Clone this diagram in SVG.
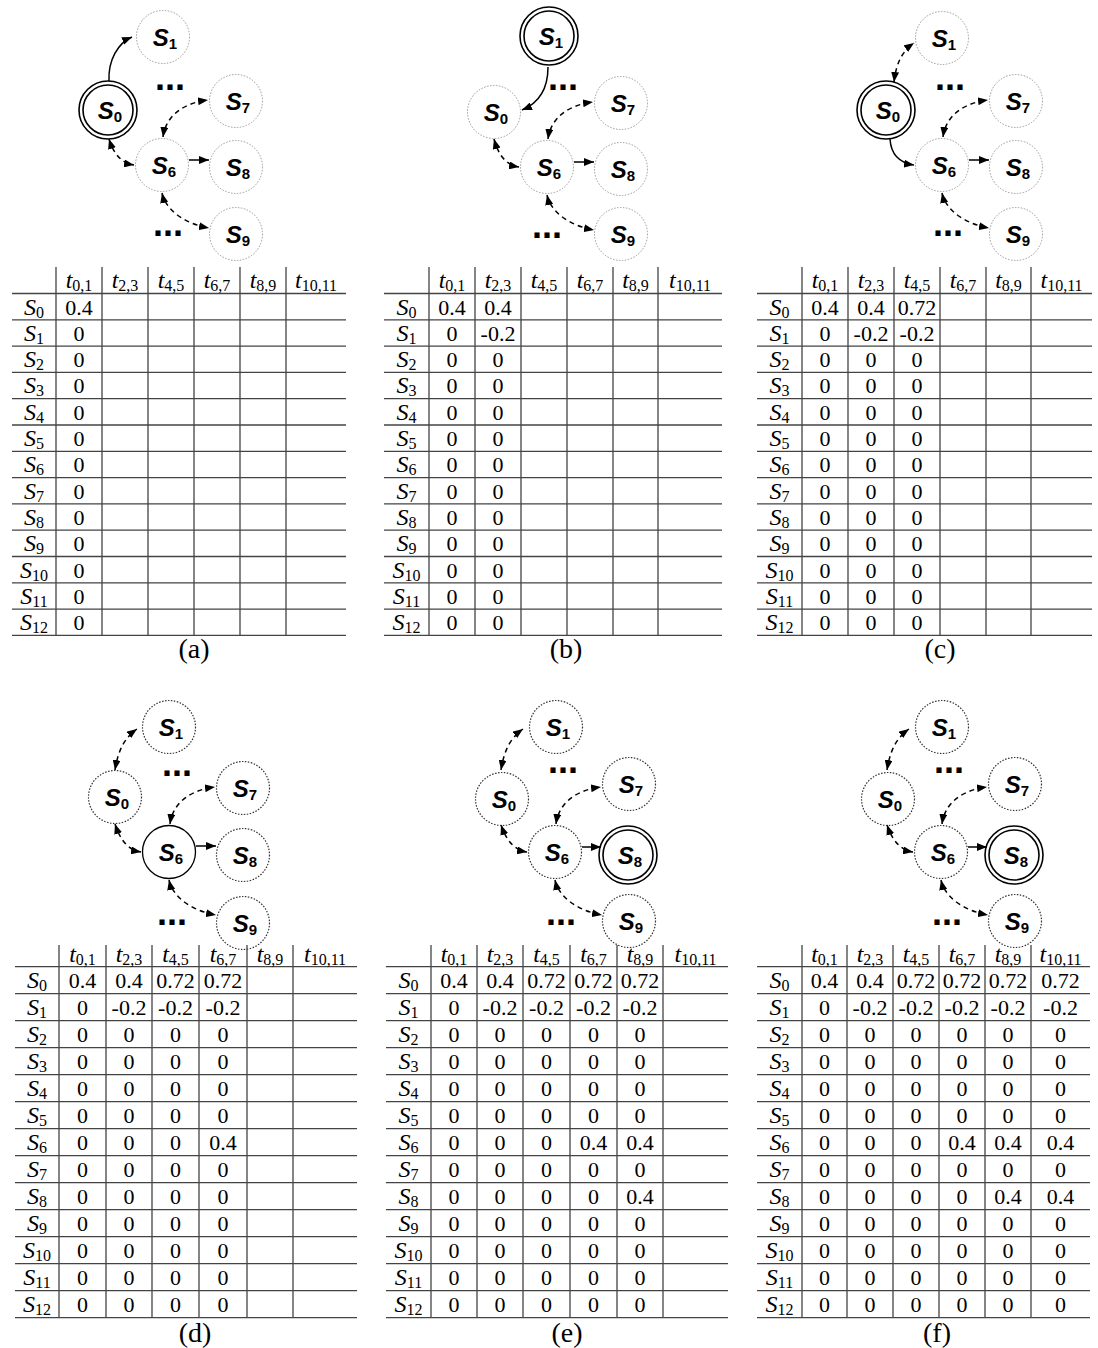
<svg xmlns="http://www.w3.org/2000/svg" width="1098" height="1348" viewBox="0 0 1098 1348">
<style>
.nd circle{fill:none;stroke:#999;stroke-width:1;stroke-dasharray:1.5 1.5}
.nk circle{fill:none;stroke:#333;stroke-width:1.2;stroke-dasharray:1.5 1.5}
.db circle{fill:none;stroke:#000;stroke-width:1.6}
.sg circle{fill:none;stroke:#000;stroke-width:1.3}
.node text{font-family:"Liberation Sans",Arial,sans-serif;font-weight:bold;font-style:italic;font-size:24px;text-anchor:middle;fill:#000}
.ns{font-size:15px;font-style:normal}
.dots{font-family:"Liberation Sans",Arial,sans-serif;font-weight:bold;font-size:36px;text-anchor:middle}
.sl{fill:none;stroke:#000;stroke-width:1.5}
.ds{fill:none;stroke:#000;stroke-width:1.5;stroke-dasharray:5 4}
.gl path{fill:none;stroke:#444;stroke-width:1.3}
.hd,.rl{font-family:"Liberation Serif","Times New Roman",serif;font-style:italic;font-size:24px;text-anchor:middle}
.sb{font-style:normal;font-size:16px}
.v{font-family:"Liberation Serif","Times New Roman",serif;font-size:22px;text-anchor:middle}
.cap{font-family:"Liberation Serif","Times New Roman",serif;font-size:28px;text-anchor:middle}
</style>
<defs>
<marker id="ah" viewBox="0 0 10 8" refX="10" refY="4" markerWidth="10" markerHeight="8" markerUnits="userSpaceOnUse" orient="auto-start-reverse"><path d="M0,0 L10,4 L0,8 z" fill="#000"/></marker>
</defs>
<rect width="1098" height="1348" fill="#fff"/>

<!-- ===== Graph (a) ===== -->
<g id="graph-a" transform="translate(162,165)">
<g id="a-edges">
<path class="sl" d="M-53,-84 C-54,-105 -44,-122 -30,-128" marker-end="url(#ah)"/>
<path class="ds" d="M-53,-26 C-48,-10 -40,-2 -28,0" marker-start="url(#ah)" marker-end="url(#ah)"/>
<path class="ds" d="M1,-28 C4,-50 22,-62 46,-65" marker-start="url(#ah)" marker-end="url(#ah)"/>
<path class="sl" d="M27,-5 L47,-5" marker-end="url(#ah)"/>
<path class="ds" d="M0,28 C4,46 24,59 47,63" marker-start="url(#ah)" marker-end="url(#ah)"/>
</g>
<g id="a-S0" class="node db" transform="translate(-54,-55)"><circle r="29"/><circle r="25"/><text x="2" y="9">S<tspan class="ns" dy="3">0</tspan></text></g>
<g id="a-S1" class="node nd" transform="translate(1,-128)"><circle r="26.5"/><text x="2" y="9">S<tspan class="ns" dy="3">1</tspan></text></g>
<g id="a-S6" class="node nd"><circle r="26.5"/><text x="2" y="9">S<tspan class="ns" dy="3">6</tspan></text></g>
<g id="a-S7" class="node nd" transform="translate(74,-64)"><circle r="26.5"/><text x="2" y="9">S<tspan class="ns" dy="3">7</tspan></text></g>
<g id="a-S8" class="node nd" transform="translate(74,2)"><circle r="26.5"/><text x="2" y="9">S<tspan class="ns" dy="3">8</tspan></text></g>
<g id="a-S9" class="node nd" transform="translate(74,69)"><circle r="26.5"/><text x="2" y="9">S<tspan class="ns" dy="3">9</tspan></text></g>
<text class="dots" x="8" y="-75">...</text>
<text class="dots" x="6" y="71">...</text>
</g>

<!-- ===== Graph (b) ===== -->
<g id="graph-b" transform="translate(547,167)">
<g id="b-edges">
<path class="sl" d="M1,-100 C1,-78 -8,-64 -25,-57" marker-end="url(#ah)"/>
<path class="ds" d="M-53,-28 C-48,-10 -40,-2 -28,0" marker-start="url(#ah)" marker-end="url(#ah)"/>
<path class="ds" d="M1,-28 C4,-50 22,-62 46,-65" marker-start="url(#ah)" marker-end="url(#ah)"/>
<path class="sl" d="M27,-5 L47,-5" marker-end="url(#ah)"/>
<path class="ds" d="M0,28 C4,46 24,59 47,63" marker-start="url(#ah)" marker-end="url(#ah)"/>
</g>
<g id="b-S0" class="node nd" transform="translate(-53,-55)"><circle r="26.5"/><text x="2" y="9">S<tspan class="ns" dy="3">0</tspan></text></g>
<g id="b-S1" class="node db" transform="translate(2,-131)"><circle r="29"/><circle r="25"/><text x="2" y="9">S<tspan class="ns" dy="3">1</tspan></text></g>
<g id="b-S6" class="node nd"><circle r="26.5"/><text x="2" y="9">S<tspan class="ns" dy="3">6</tspan></text></g>
<g id="b-S7" class="node nd" transform="translate(74,-64)"><circle r="26.5"/><text x="2" y="9">S<tspan class="ns" dy="3">7</tspan></text></g>
<g id="b-S8" class="node nd" transform="translate(74,2)"><circle r="26.5"/><text x="2" y="9">S<tspan class="ns" dy="3">8</tspan></text></g>
<g id="b-S9" class="node nd" transform="translate(74,67)"><circle r="26.5"/><text x="2" y="9">S<tspan class="ns" dy="3">9</tspan></text></g>
<text class="dots" x="16" y="-77">...</text>
<text class="dots" x="0" y="71">...</text>
</g>

<!-- ===== Graph (c) ===== -->
<g id="graph-c" transform="translate(942,165)">
<g id="c-edges">
<path class="ds" d="M-48,-83 C-46,-100 -41,-113 -28,-122" marker-start="url(#ah)" marker-end="url(#ah)"/>
<path class="sl" d="M-52,-26 C-51,-10 -42,-2 -28,0" marker-end="url(#ah)"/>
<path class="ds" d="M1,-28 C4,-50 22,-62 46,-65" marker-start="url(#ah)" marker-end="url(#ah)"/>
<path class="sl" d="M27,-5 L47,-5" marker-end="url(#ah)"/>
<path class="ds" d="M0,28 C4,46 24,59 47,63" marker-start="url(#ah)" marker-end="url(#ah)"/>
</g>
<g id="c-S0" class="node db" transform="translate(-56,-55)"><circle r="29"/><circle r="25"/><text x="2" y="9">S<tspan class="ns" dy="3">0</tspan></text></g>
<g id="c-S1" class="node nd" transform="translate(0,-127)"><circle r="26.5"/><text x="2" y="9">S<tspan class="ns" dy="3">1</tspan></text></g>
<g id="c-S6" class="node nd"><circle r="26.5"/><text x="2" y="9">S<tspan class="ns" dy="3">6</tspan></text></g>
<g id="c-S7" class="node nd" transform="translate(74,-64)"><circle r="26.5"/><text x="2" y="9">S<tspan class="ns" dy="3">7</tspan></text></g>
<g id="c-S8" class="node nd" transform="translate(74,2)"><circle r="26.5"/><text x="2" y="9">S<tspan class="ns" dy="3">8</tspan></text></g>
<g id="c-S9" class="node nd" transform="translate(74,69)"><circle r="26.5"/><text x="2" y="9">S<tspan class="ns" dy="3">9</tspan></text></g>
<text class="dots" x="8" y="-75">...</text>
<text class="dots" x="6" y="71">...</text>
</g>

<!-- ===== Graph (d) ===== -->
<g id="graph-d" transform="translate(169,852)">
<g id="d-edges">
<path class="ds" d="M-54,-82 C-51,-100 -46,-113 -32,-123" marker-start="url(#ah)" marker-end="url(#ah)"/>
<path class="ds" d="M-54,-28 C-48,-10 -40,-2 -28,0" marker-start="url(#ah)" marker-end="url(#ah)"/>
<path class="ds" d="M1,-28 C4,-50 22,-62 46,-65" marker-start="url(#ah)" marker-end="url(#ah)"/>
<path class="sl" d="M27,-6 L47,-6" marker-end="url(#ah)"/>
<path class="ds" d="M0,28 C4,46 24,59 47,63" marker-start="url(#ah)" marker-end="url(#ah)"/>
</g>
<g id="d-S0" class="node nk" transform="translate(-54,-55)"><circle r="26.5"/><text x="2" y="9">S<tspan class="ns" dy="3">0</tspan></text></g>
<g id="d-S1" class="node nk" transform="translate(0,-125)"><circle r="26.5"/><text x="2" y="9">S<tspan class="ns" dy="3">1</tspan></text></g>
<g id="d-S6" class="node sg"><circle r="26.5"/><text x="2" y="9">S<tspan class="ns" dy="3">6</tspan></text></g>
<g id="d-S7" class="node nk" transform="translate(74,-64)"><circle r="26.5"/><text x="2" y="9">S<tspan class="ns" dy="3">7</tspan></text></g>
<g id="d-S8" class="node nk" transform="translate(74,3)"><circle r="26.5"/><text x="2" y="9">S<tspan class="ns" dy="3">8</tspan></text></g>
<g id="d-S9" class="node nk" transform="translate(74,71)"><circle r="26.5"/><text x="2" y="9">S<tspan class="ns" dy="3">9</tspan></text></g>
<text class="dots" x="8" y="-76">...</text>
<text class="dots" x="3" y="73">...</text>
</g>

<!-- ===== Graph (e) ===== -->
<g id="graph-e" transform="translate(555,852)">
<g id="e-edges">
<path class="ds" d="M-54,-82 C-51,-100 -46,-113 -32,-123" marker-start="url(#ah)" marker-end="url(#ah)"/>
<path class="ds" d="M-54,-27 C-48,-10 -40,-2 -28,0" marker-start="url(#ah)" marker-end="url(#ah)"/>
<path class="ds" d="M1,-28 C4,-50 22,-62 46,-65" marker-start="url(#ah)" marker-end="url(#ah)"/>
<path class="sl" d="M27,-5 L46,-5" marker-end="url(#ah)"/>
<path class="ds" d="M0,28 C4,46 24,59 47,63" marker-start="url(#ah)" marker-end="url(#ah)"/>
</g>
<g id="e-S0" class="node nk" transform="translate(-53,-53)"><circle r="26.5"/><text x="2" y="9">S<tspan class="ns" dy="3">0</tspan></text></g>
<g id="e-S1" class="node nk" transform="translate(1,-125)"><circle r="26.5"/><text x="2" y="9">S<tspan class="ns" dy="3">1</tspan></text></g>
<g id="e-S6" class="node nk"><circle r="26.5"/><text x="2" y="9">S<tspan class="ns" dy="3">6</tspan></text></g>
<g id="e-S7" class="node nk" transform="translate(74,-68)"><circle r="26.5"/><text x="2" y="9">S<tspan class="ns" dy="3">7</tspan></text></g>
<g id="e-S8" class="node db" transform="translate(73,3)"><circle r="29"/><circle r="25"/><text x="2" y="9">S<tspan class="ns" dy="3">8</tspan></text></g>
<g id="e-S9" class="node nk" transform="translate(74,69)"><circle r="26.5"/><text x="2" y="9">S<tspan class="ns" dy="3">9</tspan></text></g>
<text class="dots" x="8" y="-79">...</text>
<text class="dots" x="6" y="73">...</text>
</g>

<!-- ===== Graph (f) ===== -->
<g id="graph-f" transform="translate(941,852)">
<g id="f-edges">
<path class="ds" d="M-54,-82 C-51,-100 -46,-113 -32,-123" marker-start="url(#ah)" marker-end="url(#ah)"/>
<path class="ds" d="M-54,-27 C-48,-10 -40,-2 -28,0" marker-start="url(#ah)" marker-end="url(#ah)"/>
<path class="ds" d="M1,-28 C4,-50 22,-62 46,-65" marker-start="url(#ah)" marker-end="url(#ah)"/>
<path class="sl" d="M27,-5 L46,-5" marker-end="url(#ah)"/>
<path class="ds" d="M0,28 C4,46 24,59 47,63" marker-start="url(#ah)" marker-end="url(#ah)"/>
</g>
<g id="f-S0" class="node nk" transform="translate(-53,-53)"><circle r="26.5"/><text x="2" y="9">S<tspan class="ns" dy="3">0</tspan></text></g>
<g id="f-S1" class="node nk" transform="translate(1,-125)"><circle r="26.5"/><text x="2" y="9">S<tspan class="ns" dy="3">1</tspan></text></g>
<g id="f-S6" class="node nk"><circle r="26.5"/><text x="2" y="9">S<tspan class="ns" dy="3">6</tspan></text></g>
<g id="f-S7" class="node nk" transform="translate(74,-68)"><circle r="26.5"/><text x="2" y="9">S<tspan class="ns" dy="3">7</tspan></text></g>
<g id="f-S8" class="node db" transform="translate(73,3)"><circle r="29"/><circle r="25"/><text x="2" y="9">S<tspan class="ns" dy="3">8</tspan></text></g>
<g id="f-S9" class="node nk" transform="translate(74,69)"><circle r="26.5"/><text x="2" y="9">S<tspan class="ns" dy="3">9</tspan></text></g>
<text class="dots" x="8" y="-79">...</text>
<text class="dots" x="6" y="73">...</text>
</g>

<!-- ===== Table (a) ===== -->
<g id="table-a" transform="translate(12,293.5)">
<g class="gl">
<path d="M44,-26.5V341.9M90,-26.5V341.9M136,-26.5V341.9M182,-26.5V341.9M228,-26.5V341.9M274,-26.5V341.9"/>
<path d="M0,0H334M0,26.3H334M0,52.6H334M0,78.9H334M0,105.2H334M0,131.5H334M0,157.8H334M0,184.1H334M0,210.4H334M0,236.7H334M0,263H334M0,289.3H334M0,315.6H334M0,341.9H334"/>
</g>
<g class="hd">
<text x="67" y="-6">t<tspan class="sb" dy="3">0,1</tspan></text>
<text x="113" y="-6">t<tspan class="sb" dy="3">2,3</tspan></text>
<text x="159" y="-6">t<tspan class="sb" dy="3">4,5</tspan></text>
<text x="205" y="-6">t<tspan class="sb" dy="3">6,7</tspan></text>
<text x="251" y="-6">t<tspan class="sb" dy="3">8,9</tspan></text>
<text x="304" y="-6">t<tspan class="sb" dy="3">10,11</tspan></text>
</g>
<g class="rl">
<text x="22" y="21">S<tspan class="sb" dy="3">0</tspan></text>
<text x="22" y="47.3">S<tspan class="sb" dy="3">1</tspan></text>
<text x="22" y="73.6">S<tspan class="sb" dy="3">2</tspan></text>
<text x="22" y="99.9">S<tspan class="sb" dy="3">3</tspan></text>
<text x="22" y="126.2">S<tspan class="sb" dy="3">4</tspan></text>
<text x="22" y="152.5">S<tspan class="sb" dy="3">5</tspan></text>
<text x="22" y="178.8">S<tspan class="sb" dy="3">6</tspan></text>
<text x="22" y="205.1">S<tspan class="sb" dy="3">7</tspan></text>
<text x="22" y="231.4">S<tspan class="sb" dy="3">8</tspan></text>
<text x="22" y="257.7">S<tspan class="sb" dy="3">9</tspan></text>
<text x="22" y="284">S<tspan class="sb" dy="3">10</tspan></text>
<text x="22" y="310.3">S<tspan class="sb" dy="3">11</tspan></text>
<text x="22" y="336.6">S<tspan class="sb" dy="3">12</tspan></text>
</g>
<g class="v">
<text x="67" y="21">0.4</text><text x="67" y="47.3">0</text><text x="67" y="73.6">0</text><text x="67" y="99.9">0</text><text x="67" y="126.2">0</text><text x="67" y="152.5">0</text><text x="67" y="178.8">0</text><text x="67" y="205.1">0</text><text x="67" y="231.4">0</text><text x="67" y="257.7">0</text><text x="67" y="284">0</text><text x="67" y="310.3">0</text><text x="67" y="336.6">0</text>
</g>
</g>
<text class="cap" x="194" y="658">(a)</text>

<!-- ===== Table (b) ===== -->
<g id="table-b" transform="translate(384,293.5)">
<g class="gl">
<path d="M45,-26.5V341.9M91,-26.5V341.9M137,-26.5V341.9M183,-26.5V341.9M229,-26.5V341.9M274,-26.5V341.9"/>
<path d="M0,0H338M0,26.3H338M0,52.6H338M0,78.9H338M0,105.2H338M0,131.5H338M0,157.8H338M0,184.1H338M0,210.4H338M0,236.7H338M0,263H338M0,289.3H338M0,315.6H338M0,341.9H338"/>
</g>
<g class="hd">
<text x="68" y="-6">t<tspan class="sb" dy="3">0,1</tspan></text>
<text x="114" y="-6">t<tspan class="sb" dy="3">2,3</tspan></text>
<text x="160" y="-6">t<tspan class="sb" dy="3">4,5</tspan></text>
<text x="206" y="-6">t<tspan class="sb" dy="3">6,7</tspan></text>
<text x="251.5" y="-6">t<tspan class="sb" dy="3">8,9</tspan></text>
<text x="306" y="-6">t<tspan class="sb" dy="3">10,11</tspan></text>
</g>
<g class="rl">
<text x="22.5" y="21">S<tspan class="sb" dy="3">0</tspan></text>
<text x="22.5" y="47.3">S<tspan class="sb" dy="3">1</tspan></text>
<text x="22.5" y="73.6">S<tspan class="sb" dy="3">2</tspan></text>
<text x="22.5" y="99.9">S<tspan class="sb" dy="3">3</tspan></text>
<text x="22.5" y="126.2">S<tspan class="sb" dy="3">4</tspan></text>
<text x="22.5" y="152.5">S<tspan class="sb" dy="3">5</tspan></text>
<text x="22.5" y="178.8">S<tspan class="sb" dy="3">6</tspan></text>
<text x="22.5" y="205.1">S<tspan class="sb" dy="3">7</tspan></text>
<text x="22.5" y="231.4">S<tspan class="sb" dy="3">8</tspan></text>
<text x="22.5" y="257.7">S<tspan class="sb" dy="3">9</tspan></text>
<text x="22.5" y="284">S<tspan class="sb" dy="3">10</tspan></text>
<text x="22.5" y="310.3">S<tspan class="sb" dy="3">11</tspan></text>
<text x="22.5" y="336.6">S<tspan class="sb" dy="3">12</tspan></text>
</g>
<g class="v">
<text x="68" y="21">0.4</text><text x="68" y="47.3">0</text><text x="68" y="73.6">0</text><text x="68" y="99.9">0</text><text x="68" y="126.2">0</text><text x="68" y="152.5">0</text><text x="68" y="178.8">0</text><text x="68" y="205.1">0</text><text x="68" y="231.4">0</text><text x="68" y="257.7">0</text><text x="68" y="284">0</text><text x="68" y="310.3">0</text><text x="68" y="336.6">0</text>
<text x="114" y="21">0.4</text><text x="114" y="47.3">-0.2</text><text x="114" y="73.6">0</text><text x="114" y="99.9">0</text><text x="114" y="126.2">0</text><text x="114" y="152.5">0</text><text x="114" y="178.8">0</text><text x="114" y="205.1">0</text><text x="114" y="231.4">0</text><text x="114" y="257.7">0</text><text x="114" y="284">0</text><text x="114" y="310.3">0</text><text x="114" y="336.6">0</text>
</g>
</g>
<text class="cap" x="566" y="658">(b)</text>

<!-- ===== Table (c) ===== -->
<g id="table-c" transform="translate(757,293.5)">
<g class="gl">
<path d="M45,-26.5V341.9M91,-26.5V341.9M137,-26.5V341.9M183,-26.5V341.9M229,-26.5V341.9M274,-26.5V341.9"/>
<path d="M0,0H335M0,26.3H335M0,52.6H335M0,78.9H335M0,105.2H335M0,131.5H335M0,157.8H335M0,184.1H335M0,210.4H335M0,236.7H335M0,263H335M0,289.3H335M0,315.6H335M0,341.9H335"/>
</g>
<g class="hd">
<text x="68" y="-6">t<tspan class="sb" dy="3">0,1</tspan></text>
<text x="114" y="-6">t<tspan class="sb" dy="3">2,3</tspan></text>
<text x="160" y="-6">t<tspan class="sb" dy="3">4,5</tspan></text>
<text x="206" y="-6">t<tspan class="sb" dy="3">6,7</tspan></text>
<text x="251.5" y="-6">t<tspan class="sb" dy="3">8,9</tspan></text>
<text x="304.5" y="-6">t<tspan class="sb" dy="3">10,11</tspan></text>
</g>
<g class="rl">
<text x="22.5" y="21">S<tspan class="sb" dy="3">0</tspan></text>
<text x="22.5" y="47.3">S<tspan class="sb" dy="3">1</tspan></text>
<text x="22.5" y="73.6">S<tspan class="sb" dy="3">2</tspan></text>
<text x="22.5" y="99.9">S<tspan class="sb" dy="3">3</tspan></text>
<text x="22.5" y="126.2">S<tspan class="sb" dy="3">4</tspan></text>
<text x="22.5" y="152.5">S<tspan class="sb" dy="3">5</tspan></text>
<text x="22.5" y="178.8">S<tspan class="sb" dy="3">6</tspan></text>
<text x="22.5" y="205.1">S<tspan class="sb" dy="3">7</tspan></text>
<text x="22.5" y="231.4">S<tspan class="sb" dy="3">8</tspan></text>
<text x="22.5" y="257.7">S<tspan class="sb" dy="3">9</tspan></text>
<text x="22.5" y="284">S<tspan class="sb" dy="3">10</tspan></text>
<text x="22.5" y="310.3">S<tspan class="sb" dy="3">11</tspan></text>
<text x="22.5" y="336.6">S<tspan class="sb" dy="3">12</tspan></text>
</g>
<g class="v">
<text x="68" y="21">0.4</text><text x="68" y="47.3">0</text><text x="68" y="73.6">0</text><text x="68" y="99.9">0</text><text x="68" y="126.2">0</text><text x="68" y="152.5">0</text><text x="68" y="178.8">0</text><text x="68" y="205.1">0</text><text x="68" y="231.4">0</text><text x="68" y="257.7">0</text><text x="68" y="284">0</text><text x="68" y="310.3">0</text><text x="68" y="336.6">0</text>
<text x="114" y="21">0.4</text><text x="114" y="47.3">-0.2</text><text x="114" y="73.6">0</text><text x="114" y="99.9">0</text><text x="114" y="126.2">0</text><text x="114" y="152.5">0</text><text x="114" y="178.8">0</text><text x="114" y="205.1">0</text><text x="114" y="231.4">0</text><text x="114" y="257.7">0</text><text x="114" y="284">0</text><text x="114" y="310.3">0</text><text x="114" y="336.6">0</text>
<text x="160" y="21">0.72</text><text x="160" y="47.3">-0.2</text><text x="160" y="73.6">0</text><text x="160" y="99.9">0</text><text x="160" y="126.2">0</text><text x="160" y="152.5">0</text><text x="160" y="178.8">0</text><text x="160" y="205.1">0</text><text x="160" y="231.4">0</text><text x="160" y="257.7">0</text><text x="160" y="284">0</text><text x="160" y="310.3">0</text><text x="160" y="336.6">0</text>
</g>
</g>
<text class="cap" x="940" y="658">(c)</text>

<!-- ===== Table (d) ===== -->
<g id="table-d" transform="translate(15,966.7)">
<g class="gl">
<path d="M44,-21.7V351M91,-21.7V351M137,-21.7V351M184,-21.7V351M232,-21.7V351M278,-21.7V351"/>
<path d="M0,0H342M0,27H342M0,54H342M0,81H342M0,108H342M0,135H342M0,162H342M0,189H342M0,216H342M0,243H342M0,270H342M0,297H342M0,324H342M0,351H342"/>
</g>
<g class="hd">
<text x="67.5" y="-5">t<tspan class="sb" dy="3">0,1</tspan></text>
<text x="114" y="-5">t<tspan class="sb" dy="3">2,3</tspan></text>
<text x="160.5" y="-5">t<tspan class="sb" dy="3">4,5</tspan></text>
<text x="208" y="-5">t<tspan class="sb" dy="3">6,7</tspan></text>
<text x="255" y="-5">t<tspan class="sb" dy="3">8,9</tspan></text>
<text x="310" y="-5">t<tspan class="sb" dy="3">10,11</tspan></text>
</g>
<g class="rl">
<text x="22" y="21">S<tspan class="sb" dy="3">0</tspan></text>
<text x="22" y="48">S<tspan class="sb" dy="3">1</tspan></text>
<text x="22" y="75">S<tspan class="sb" dy="3">2</tspan></text>
<text x="22" y="102">S<tspan class="sb" dy="3">3</tspan></text>
<text x="22" y="129">S<tspan class="sb" dy="3">4</tspan></text>
<text x="22" y="156">S<tspan class="sb" dy="3">5</tspan></text>
<text x="22" y="183">S<tspan class="sb" dy="3">6</tspan></text>
<text x="22" y="210">S<tspan class="sb" dy="3">7</tspan></text>
<text x="22" y="237">S<tspan class="sb" dy="3">8</tspan></text>
<text x="22" y="264">S<tspan class="sb" dy="3">9</tspan></text>
<text x="22" y="291">S<tspan class="sb" dy="3">10</tspan></text>
<text x="22" y="318">S<tspan class="sb" dy="3">11</tspan></text>
<text x="22" y="345">S<tspan class="sb" dy="3">12</tspan></text>
</g>
<g class="v">
<text x="67.5" y="21">0.4</text><text x="67.5" y="48">0</text><text x="67.5" y="75">0</text><text x="67.5" y="102">0</text><text x="67.5" y="129">0</text><text x="67.5" y="156">0</text><text x="67.5" y="183">0</text><text x="67.5" y="210">0</text><text x="67.5" y="237">0</text><text x="67.5" y="264">0</text><text x="67.5" y="291">0</text><text x="67.5" y="318">0</text><text x="67.5" y="345">0</text>
<text x="114" y="21">0.4</text><text x="114" y="48">-0.2</text><text x="114" y="75">0</text><text x="114" y="102">0</text><text x="114" y="129">0</text><text x="114" y="156">0</text><text x="114" y="183">0</text><text x="114" y="210">0</text><text x="114" y="237">0</text><text x="114" y="264">0</text><text x="114" y="291">0</text><text x="114" y="318">0</text><text x="114" y="345">0</text>
<text x="160.5" y="21">0.72</text><text x="160.5" y="48">-0.2</text><text x="160.5" y="75">0</text><text x="160.5" y="102">0</text><text x="160.5" y="129">0</text><text x="160.5" y="156">0</text><text x="160.5" y="183">0</text><text x="160.5" y="210">0</text><text x="160.5" y="237">0</text><text x="160.5" y="264">0</text><text x="160.5" y="291">0</text><text x="160.5" y="318">0</text><text x="160.5" y="345">0</text>
<text x="208" y="21">0.72</text><text x="208" y="48">-0.2</text><text x="208" y="75">0</text><text x="208" y="102">0</text><text x="208" y="129">0</text><text x="208" y="156">0</text><text x="208" y="183">0.4</text><text x="208" y="210">0</text><text x="208" y="237">0</text><text x="208" y="264">0</text><text x="208" y="291">0</text><text x="208" y="318">0</text><text x="208" y="345">0</text>
</g>
</g>
<text class="cap" x="195" y="1342">(d)</text>

<!-- ===== Table (e) ===== -->
<g id="table-e" transform="translate(386,966.7)">
<g class="gl">
<path d="M45,-21.7V351M91,-21.7V351M137,-21.7V351M184,-21.7V351M231,-21.7V351M277,-21.7V351"/>
<path d="M0,0H342M0,27H342M0,54H342M0,81H342M0,108H342M0,135H342M0,162H342M0,189H342M0,216H342M0,243H342M0,270H342M0,297H342M0,324H342M0,351H342"/>
</g>
<g class="hd">
<text x="68" y="-5">t<tspan class="sb" dy="3">0,1</tspan></text>
<text x="114" y="-5">t<tspan class="sb" dy="3">2,3</tspan></text>
<text x="160.5" y="-5">t<tspan class="sb" dy="3">4,5</tspan></text>
<text x="207.5" y="-5">t<tspan class="sb" dy="3">6,7</tspan></text>
<text x="254" y="-5">t<tspan class="sb" dy="3">8,9</tspan></text>
<text x="309.5" y="-5">t<tspan class="sb" dy="3">10,11</tspan></text>
</g>
<g class="rl">
<text x="22.5" y="21">S<tspan class="sb" dy="3">0</tspan></text>
<text x="22.5" y="48">S<tspan class="sb" dy="3">1</tspan></text>
<text x="22.5" y="75">S<tspan class="sb" dy="3">2</tspan></text>
<text x="22.5" y="102">S<tspan class="sb" dy="3">3</tspan></text>
<text x="22.5" y="129">S<tspan class="sb" dy="3">4</tspan></text>
<text x="22.5" y="156">S<tspan class="sb" dy="3">5</tspan></text>
<text x="22.5" y="183">S<tspan class="sb" dy="3">6</tspan></text>
<text x="22.5" y="210">S<tspan class="sb" dy="3">7</tspan></text>
<text x="22.5" y="237">S<tspan class="sb" dy="3">8</tspan></text>
<text x="22.5" y="264">S<tspan class="sb" dy="3">9</tspan></text>
<text x="22.5" y="291">S<tspan class="sb" dy="3">10</tspan></text>
<text x="22.5" y="318">S<tspan class="sb" dy="3">11</tspan></text>
<text x="22.5" y="345">S<tspan class="sb" dy="3">12</tspan></text>
</g>
<g class="v">
<text x="68" y="21">0.4</text><text x="68" y="48">0</text><text x="68" y="75">0</text><text x="68" y="102">0</text><text x="68" y="129">0</text><text x="68" y="156">0</text><text x="68" y="183">0</text><text x="68" y="210">0</text><text x="68" y="237">0</text><text x="68" y="264">0</text><text x="68" y="291">0</text><text x="68" y="318">0</text><text x="68" y="345">0</text>
<text x="114" y="21">0.4</text><text x="114" y="48">-0.2</text><text x="114" y="75">0</text><text x="114" y="102">0</text><text x="114" y="129">0</text><text x="114" y="156">0</text><text x="114" y="183">0</text><text x="114" y="210">0</text><text x="114" y="237">0</text><text x="114" y="264">0</text><text x="114" y="291">0</text><text x="114" y="318">0</text><text x="114" y="345">0</text>
<text x="160.5" y="21">0.72</text><text x="160.5" y="48">-0.2</text><text x="160.5" y="75">0</text><text x="160.5" y="102">0</text><text x="160.5" y="129">0</text><text x="160.5" y="156">0</text><text x="160.5" y="183">0</text><text x="160.5" y="210">0</text><text x="160.5" y="237">0</text><text x="160.5" y="264">0</text><text x="160.5" y="291">0</text><text x="160.5" y="318">0</text><text x="160.5" y="345">0</text>
<text x="207.5" y="21">0.72</text><text x="207.5" y="48">-0.2</text><text x="207.5" y="75">0</text><text x="207.5" y="102">0</text><text x="207.5" y="129">0</text><text x="207.5" y="156">0</text><text x="207.5" y="183">0.4</text><text x="207.5" y="210">0</text><text x="207.5" y="237">0</text><text x="207.5" y="264">0</text><text x="207.5" y="291">0</text><text x="207.5" y="318">0</text><text x="207.5" y="345">0</text>
<text x="254" y="21">0.72</text><text x="254" y="48">-0.2</text><text x="254" y="75">0</text><text x="254" y="102">0</text><text x="254" y="129">0</text><text x="254" y="156">0</text><text x="254" y="183">0.4</text><text x="254" y="210">0</text><text x="254" y="237">0.4</text><text x="254" y="264">0</text><text x="254" y="291">0</text><text x="254" y="318">0</text><text x="254" y="345">0</text>
</g>
</g>
<text class="cap" x="567" y="1342">(e)</text>

<!-- ===== Table (f) ===== -->
<g id="table-f" transform="translate(757,966.7)">
<g class="gl">
<path d="M45,-21.7V351M90,-21.7V351M136,-21.7V351M182,-21.7V351M228,-21.7V351M274,-21.7V351"/>
<path d="M0,0H333M0,27H333M0,54H333M0,81H333M0,108H333M0,135H333M0,162H333M0,189H333M0,216H333M0,243H333M0,270H333M0,297H333M0,324H333M0,351H333"/>
</g>
<g class="hd">
<text x="67.5" y="-5">t<tspan class="sb" dy="3">0,1</tspan></text>
<text x="113" y="-5">t<tspan class="sb" dy="3">2,3</tspan></text>
<text x="159" y="-5">t<tspan class="sb" dy="3">4,5</tspan></text>
<text x="205" y="-5">t<tspan class="sb" dy="3">6,7</tspan></text>
<text x="251" y="-5">t<tspan class="sb" dy="3">8,9</tspan></text>
<text x="303.5" y="-5">t<tspan class="sb" dy="3">10,11</tspan></text>
</g>
<g class="rl">
<text x="22.5" y="21">S<tspan class="sb" dy="3">0</tspan></text>
<text x="22.5" y="48">S<tspan class="sb" dy="3">1</tspan></text>
<text x="22.5" y="75">S<tspan class="sb" dy="3">2</tspan></text>
<text x="22.5" y="102">S<tspan class="sb" dy="3">3</tspan></text>
<text x="22.5" y="129">S<tspan class="sb" dy="3">4</tspan></text>
<text x="22.5" y="156">S<tspan class="sb" dy="3">5</tspan></text>
<text x="22.5" y="183">S<tspan class="sb" dy="3">6</tspan></text>
<text x="22.5" y="210">S<tspan class="sb" dy="3">7</tspan></text>
<text x="22.5" y="237">S<tspan class="sb" dy="3">8</tspan></text>
<text x="22.5" y="264">S<tspan class="sb" dy="3">9</tspan></text>
<text x="22.5" y="291">S<tspan class="sb" dy="3">10</tspan></text>
<text x="22.5" y="318">S<tspan class="sb" dy="3">11</tspan></text>
<text x="22.5" y="345">S<tspan class="sb" dy="3">12</tspan></text>
</g>
<g class="v">
<text x="67.5" y="21">0.4</text><text x="67.5" y="48">0</text><text x="67.5" y="75">0</text><text x="67.5" y="102">0</text><text x="67.5" y="129">0</text><text x="67.5" y="156">0</text><text x="67.5" y="183">0</text><text x="67.5" y="210">0</text><text x="67.5" y="237">0</text><text x="67.5" y="264">0</text><text x="67.5" y="291">0</text><text x="67.5" y="318">0</text><text x="67.5" y="345">0</text>
<text x="113" y="21">0.4</text><text x="113" y="48">-0.2</text><text x="113" y="75">0</text><text x="113" y="102">0</text><text x="113" y="129">0</text><text x="113" y="156">0</text><text x="113" y="183">0</text><text x="113" y="210">0</text><text x="113" y="237">0</text><text x="113" y="264">0</text><text x="113" y="291">0</text><text x="113" y="318">0</text><text x="113" y="345">0</text>
<text x="159" y="21">0.72</text><text x="159" y="48">-0.2</text><text x="159" y="75">0</text><text x="159" y="102">0</text><text x="159" y="129">0</text><text x="159" y="156">0</text><text x="159" y="183">0</text><text x="159" y="210">0</text><text x="159" y="237">0</text><text x="159" y="264">0</text><text x="159" y="291">0</text><text x="159" y="318">0</text><text x="159" y="345">0</text>
<text x="205" y="21">0.72</text><text x="205" y="48">-0.2</text><text x="205" y="75">0</text><text x="205" y="102">0</text><text x="205" y="129">0</text><text x="205" y="156">0</text><text x="205" y="183">0.4</text><text x="205" y="210">0</text><text x="205" y="237">0</text><text x="205" y="264">0</text><text x="205" y="291">0</text><text x="205" y="318">0</text><text x="205" y="345">0</text>
<text x="251" y="21">0.72</text><text x="251" y="48">-0.2</text><text x="251" y="75">0</text><text x="251" y="102">0</text><text x="251" y="129">0</text><text x="251" y="156">0</text><text x="251" y="183">0.4</text><text x="251" y="210">0</text><text x="251" y="237">0.4</text><text x="251" y="264">0</text><text x="251" y="291">0</text><text x="251" y="318">0</text><text x="251" y="345">0</text>
<text x="303.5" y="21">0.72</text><text x="303.5" y="48">-0.2</text><text x="303.5" y="75">0</text><text x="303.5" y="102">0</text><text x="303.5" y="129">0</text><text x="303.5" y="156">0</text><text x="303.5" y="183">0.4</text><text x="303.5" y="210">0</text><text x="303.5" y="237">0.4</text><text x="303.5" y="264">0</text><text x="303.5" y="291">0</text><text x="303.5" y="318">0</text><text x="303.5" y="345">0</text>
</g>
</g>
<text class="cap" x="937" y="1342">(f)</text>
</svg>
